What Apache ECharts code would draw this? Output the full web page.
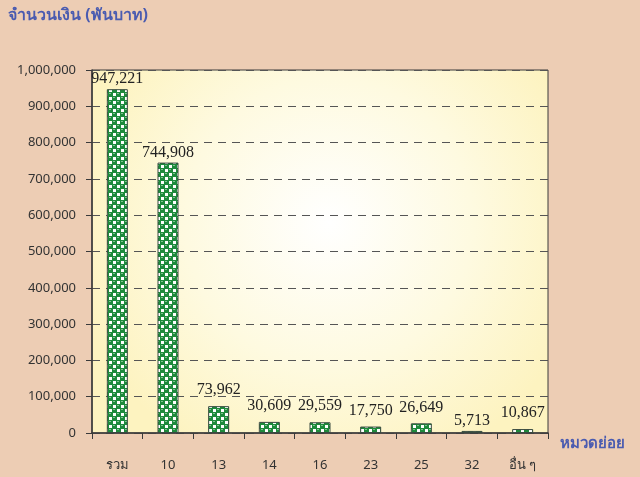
<!DOCTYPE html>
<html>
<head>
<meta charset="utf-8">
<script src="https://cdn.jsdelivr.net/npm/echarts@6/dist/echarts.min.js"></script>
<style>
html,body{margin:0;padding:0;background:#edcdb4;}
#chart{width:640px;height:477px;}
</style>
</head>
<body>
<div id="chart"></div>
<script>
var categories = ['รวม', '10', '13', '14', '16', '23', '25', '32', 'อื่น ๆ'];
var amounts = [947221, 744908, 73962, 30609, 29559, 17750, 26649, 5713, 10867];
var yTicks = [0, 100000, 200000, 300000, 400000, 500000, 600000, 700000, 800000, 900000, 1000000];

// green / white check pattern for the bars
function makeTile() {
	var c = document.createElement('canvas');
	c.width = 8; c.height = 8;
	var g = c.getContext('2d');
	g.fillStyle = '#1e8a3c';
	g.fillRect(0, 0, 8, 8);
	g.fillStyle = '#ffffff';
	g.fillRect(5, 1, 3, 3);
	g.fillRect(1, 5, 3, 3);
	g.fillStyle = '#7fc48f';
	g.fillRect(1, 1, 2, 1);
	g.fillRect(5, 5, 2, 1);
	return c;
}

var barData = amounts.map(function (v, i) {
	// the two tall bars have their labels sitting closer to the top
	return {value: v, label: {distance: (i < 2 || v < 10000) ? 2 : 8}};
});

var myChart = echarts.init(document.getElementById('chart'));

var option = {
	backgroundColor: '#edcdb4',
	animation: false,
	textStyle: {fontFamily: 'Noto Sans, sans-serif'},
	grid: {
		left: 92, right: 92, top: 70, bottom: 44,
		show: true,
		borderColor: '#3a3a3a',
		borderWidth: 1,
		backgroundColor: {
			type: 'radial', x: 0.52, y: 0.42, r: 0.72,
			colorStops: [
				{offset: 0, color: '#ffffff'},
				{offset: 0.55, color: '#fefae0'},
				{offset: 1, color: '#fdf3c0'}
			]
		}
	},
	xAxis: {
		type: 'category',
		data: categories,
		name: 'หมวดย่อย',
		nameLocation: 'end',
		nameGap: 12,
		nameTextStyle: {color: '#4a5bb0', fontSize: 15, fontWeight: 'bold', verticalAlign: 'top', padding: [3, 0, 0, 0]},
		axisLine: {lineStyle: {color: '#3a3a3a', width: 1.5}},
		axisTick: {show: true, alignWithLabel: false, length: 6, lineStyle: {color: '#3a3a3a'}},
		axisLabel: {color: '#333', fontSize: 13, margin: 26}
	},
	yAxis: {
		type: 'value',
		min: yTicks[0],
		max: yTicks[yTicks.length - 1],
		interval: 100000,
		name: 'จำนวนเงิน (พันบาท)',
		nameLocation: 'end',
		nameGap: 0,
		nameTextStyle: {color: '#4a5bb0', fontSize: 16, fontWeight: 'bold', align: 'left', padding: [0, 0, 47, -84]},
		axisLine: {show: true, lineStyle: {color: '#3a3a3a', width: 1.5}},
		axisTick: {show: true, length: 6, lineStyle: {color: '#3a3a3a'}},
		axisLabel: {
			color: '#333', fontSize: 13, margin: 16,
			formatter: function (v) { return v.toLocaleString('en-US'); }
		},
		splitLine: {show: true, lineStyle: {color: '#555', type: [8, 6], width: 1}}
	},
	series: [{
		type: 'bar',
		data: barData,
		barWidth: 21,
		itemStyle: {
			color: {image: makeTile(), repeat: 'repeat'},
			borderColor: '#3a4a40',
			borderWidth: 1
		},
		label: {
			show: true,
			position: 'top',
			color: '#222',
			fontSize: 16,
			fontFamily: 'Liberation Serif, serif',
			formatter: function (p) { return p.value.toLocaleString('en-US'); }
		}
	}]
};

myChart.setOption(option);
</script>
</body>
</html>
